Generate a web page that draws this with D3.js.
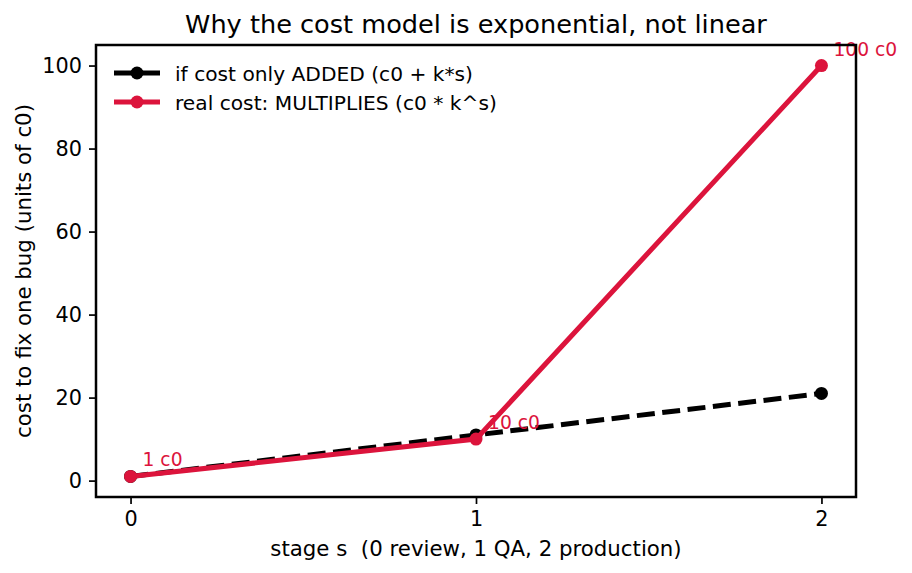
<!DOCTYPE html>
<html>
<head>
<meta charset="utf-8">
<script src="https://cdn.jsdelivr.net/npm/d3@7"></script>
<style>
  body { margin: 0; background: #fff; }
  text { font-family: "DejaVu Sans", sans-serif; fill: #000; white-space: pre; }
</style>
</head>
<body>
<div id="chart"></div>
<script>
// data
var stages = [0, 1, 2];
var addedCost = [1, 11, 21];
var multCost = [1, 10, 100];
var costLabels = ['1 c0', '10 c0', '100 c0'];
var xTicks = [0, 1, 2];
var yTicks = [0, 20, 40, 60, 80, 100];
var seriesNames = ['if cost only ADDED (c0 + k*s)', 'real cost: MULTIPLIES (c0 * k^s)'];

var width = 912, height = 573,
    margin = {left: 96, right: 56, top: 45, bottom: 76},
    svg = d3.select('#chart')
        .append('svg')
        .attr('width', width)
        .attr('height', height);

var red = '#dc143c';
var lw = 5, mr = 6.5;

// scales, with matplotlib-like 5% margins
var x = d3.scaleLinear().domain([-0.1, 2.1]).range([margin.left, width - margin.right]);
var y = d3.scaleLinear().domain([-3.95, 104.95]).range([height - margin.bottom, margin.top]);

// axes
var xAxis = svg.append('g')
    .attr('transform', 'translate(0,' + (height - margin.bottom) + ')')
    .call(d3.axisBottom(x).tickValues(xTicks).tickFormat(d3.format('d')).tickSize(7).tickPadding(7));
var yAxis = svg.append('g')
    .attr('transform', 'translate(' + margin.left + ',0)')
    .call(d3.axisLeft(y).tickValues(yTicks).tickFormat(d3.format('d')).tickSize(7).tickPadding(7));
[xAxis, yAxis].forEach(function (a) {
    a.select('.domain').remove();
    a.selectAll('.tick line').attr('stroke', '#000').attr('stroke-width', 1.7);
    a.selectAll('.tick text').style('font-size', '20.8px').attr('fill', '#000');
});

// line generator
var line = d3.line()
    .x(function (d) { return x(d[0]); })
    .y(function (d) { return y(d[1]); });

var addedPts = stages.map(function (s, i) { return [s, addedCost[i]]; });
var multPts = stages.map(function (s, i) { return [s, multCost[i]]; });

// dashed black (additive)
svg.append('path')
    .attr('d', line(addedPts))
    .attr('fill', 'none')
    .attr('stroke', '#000')
    .attr('stroke-width', lw)
    .attr('stroke-dasharray', '18,7.5');
svg.selectAll('.dot-a')
    .data(addedPts).enter().append('circle')
    .attr('cx', function (d) { return x(d[0]); })
    .attr('cy', function (d) { return y(d[1]); })
    .attr('r', mr)
    .attr('fill', '#000');

// red (multiplicative)
svg.append('path')
    .attr('d', line(multPts))
    .attr('fill', 'none')
    .attr('stroke', red)
    .attr('stroke-width', lw);
svg.selectAll('.dot-m')
    .data(multPts).enter().append('circle')
    .attr('cx', function (d) { return x(d[0]); })
    .attr('cy', function (d) { return y(d[1]); })
    .attr('r', mr)
    .attr('fill', red);

// annotations
svg.selectAll('.ann')
    .data(multPts).enter().append('text')
    .attr('x', function (d) { return x(d[0]) + 12; })
    .attr('y', function (d) { return y(d[1]) - 10; })
    .style('font-size', '18.7px')
    .style('fill', red)
    .text(function (d, i) { return costLabels[i]; });

// frame
svg.append('rect')
    .attr('x', margin.left)
    .attr('y', margin.top)
    .attr('width', width - margin.left - margin.right)
    .attr('height', height - margin.top - margin.bottom)
    .attr('fill', 'none')
    .attr('stroke', '#000')
    .attr('stroke-width', 2.5);

// legend
var legend = svg.append('g');
[{c: '#000'}, {c: red}].forEach(function (s, i) {
    var ly = 73 + i * 29;
    legend.append('line')
        .attr('x1', 114).attr('x2', 160).attr('y1', ly).attr('y2', ly)
        .attr('stroke', s.c).attr('stroke-width', lw);
    legend.append('circle')
        .attr('cx', 137).attr('cy', ly).attr('r', mr).attr('fill', s.c);
    legend.append('text')
        .attr('x', 175).attr('y', ly + 7.5)
        .style('font-size', '20.2px')
        .text(seriesNames[i]);
});

// title and axis labels
svg.append('text')
    .attr('x', (margin.left + width - margin.right) / 2)
    .attr('y', 33)
    .attr('text-anchor', 'middle')
    .style('font-size', '25.6px')
    .text('Why the cost model is exponential, not linear');

svg.append('text')
    .attr('x', (margin.left + width - margin.right) / 2)
    .attr('y', 556)
    .attr('text-anchor', 'middle')
    .style('font-size', '21.3px')
    .text('stage s  (0 review, 1 QA, 2 production)');

svg.append('text')
    .attr('transform', 'translate(31,' + (margin.top + height - margin.bottom) / 2 + ') rotate(-90)')
    .attr('text-anchor', 'middle')
    .style('font-size', '21.3px')
    .text('cost to fix one bug (units of c0)');
</script>
</body>
</html>
